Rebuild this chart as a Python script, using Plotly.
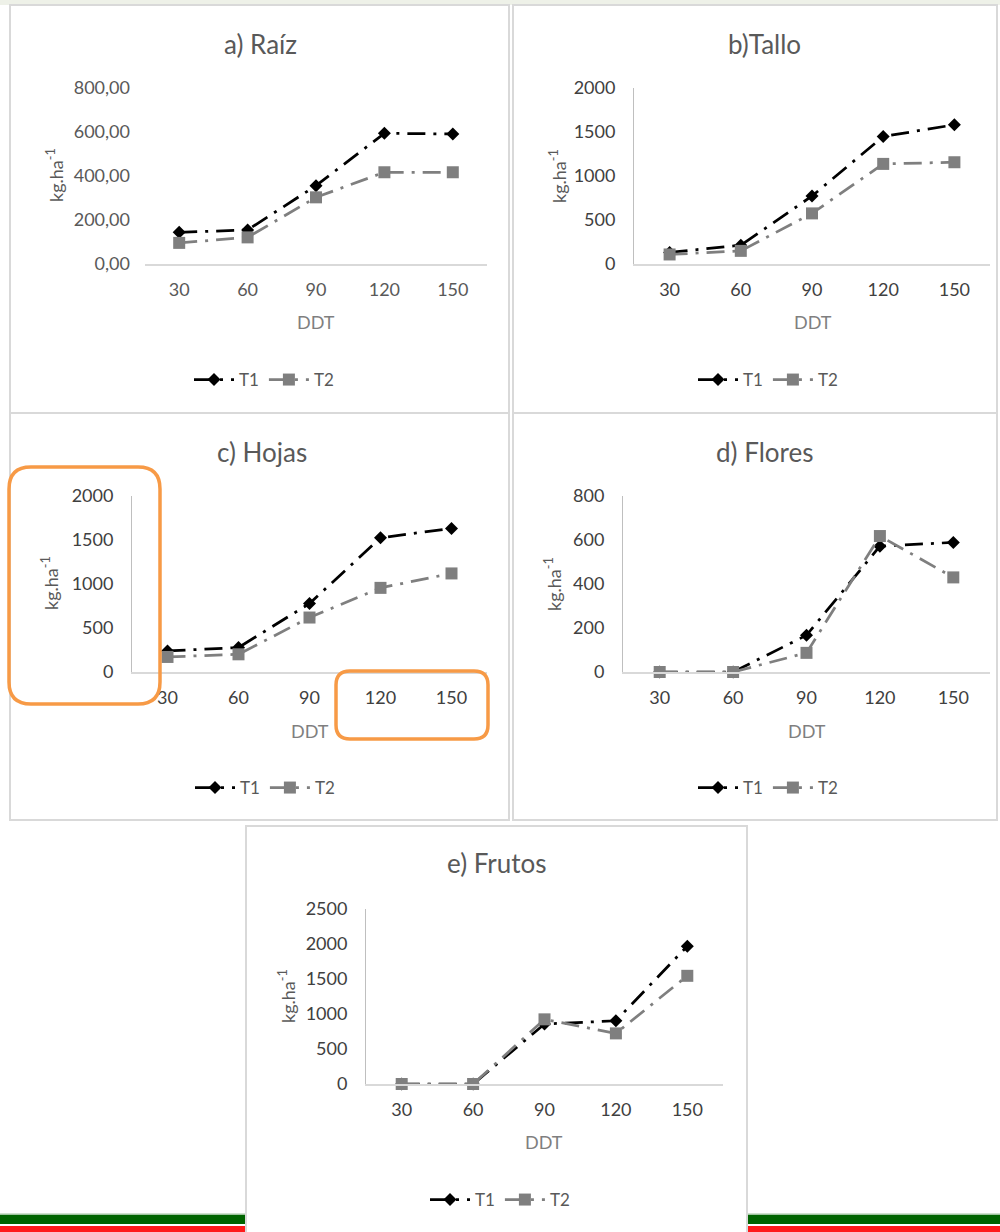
import plotly.graph_objects as go

W, H = 1000, 1232

# ---------------- data ----------------
categories = ["30", "60", "90", "120", "150"]
series_names = ["T1", "T2"]

raiz_t1 = [144, 155, 356, 594, 591]
raiz_t2 = [96, 121, 303, 417, 417]
tallo_t1 = [126, 209, 769, 1447, 1581]
tallo_t2 = [103, 144, 571, 1135, 1154]
hojas_t1 = [239, 278, 778, 1525, 1632]
hojas_t2 = [171, 201, 619, 956, 1120]
flores_t1 = [0, 0, 167, 572, 589]
flores_t2 = [0, 0, 87, 618, 430]
frutos_t1 = [0, 0, 854, 901, 1964]
frutos_t2 = [0, 0, 921, 721, 1541]

titles = ["a) Raíz", "b)Tallo", "c) Hojas", "d) Flores", "e) Frutos"]
y_max = [800, 2000, 2000, 800, 2500]
y_step = [200, 500, 500, 200, 500]
y_title = "kg.ha<sup>-1</sup>"
x_title = "DDT"

def px(x):
    return x / W

def py(y):
    return 1 - y / H

FONT = "Lato, Carlito, 'Open Sans', sans-serif"
DASH = "18px,8px,3px,8px"

panels = [
    dict(box=(10, 5, 509, 413), plot=(145, 88, 487, 264), title=(260, 44), ytit=(55, 175), xtit=(316, 322), leg=(264, 380), yline=False),
    dict(box=(513, 5, 997, 413), plot=(634, 88, 990, 263.5), title=(764, 44), ytit=(558, 176), xtit=(813, 322), leg=(768, 380), yline=True),
    dict(box=(10, 413, 509, 820), plot=(132, 496, 487, 672), title=(262, 452), ytit=(50, 583), xtit=(310, 731), leg=(265, 788), yline=True),
    dict(box=(513, 413, 997, 820), plot=(623, 496, 990, 672), title=(764, 452), ytit=(553, 584), xtit=(807, 731), leg=(768, 788), yline=True),
    dict(box=(246, 826, 747, 1240), plot=(366, 908.5, 723, 1084), title=(497, 863), ytit=(287, 996), xtit=(544, 1142), leg=(500, 1200), yline=True),
]

data_t1 = [raiz_t1, tallo_t1, hojas_t1, flores_t1, frutos_t1]
data_t2 = [raiz_t2, tallo_t2, hojas_t2, flores_t2, frutos_t2]

fig = go.Figure()
shapes = []
annotations = []
layout = {}

# page decorations
shapes.append(dict(type="rect", xref="paper", yref="paper", x0=0, x1=1, y0=py(0), y1=py(5),
                   fillcolor="#eef1e8", line=dict(width=0), layer="below"))
shapes.append(dict(type="rect", xref="paper", yref="paper", x0=0, x1=1, y0=py(1213.5), y1=py(1215),
                   fillcolor="#9fc49f", line=dict(width=0), layer="below"))
shapes.append(dict(type="rect", xref="paper", yref="paper", x0=0, x1=1, y0=py(1215), y1=py(1224),
                   fillcolor="#006400", line=dict(width=0), layer="below"))
shapes.append(dict(type="rect", xref="paper", yref="paper", x0=0, x1=1, y0=py(1226), y1=py(1232),
                   fillcolor="#ff1a1a", line=dict(width=0), layer="below"))

for i, p in enumerate(panels):
    n = "" if i == 0 else str(i + 1)
    xa, ya = "x" + n, "y" + n
    leg = "legend" + n
    x0, y0, x1, y1 = p["plot"]

    bx0, by0, bx1, by1 = p["box"]
    shapes.append(dict(type="rect", xref="paper", yref="paper",
                       x0=px(bx0), x1=px(bx1), y0=py(by0), y1=py(by1),
                       fillcolor="white", line=dict(color="#d9d9d9", width=2), layer="below"))

    fig.add_trace(go.Scatter(
        x=categories, y=data_t1[i], name=series_names[0], xaxis=xa, yaxis=ya, legend=leg,
        mode="lines+markers", cliponaxis=False,
        line=dict(color="#000000", width=2.75, dash=DASH),
        marker=dict(symbol="diamond", size=10, color="#000000"),
    ))
    fig.add_trace(go.Scatter(
        x=categories, y=data_t2[i], name=series_names[1], xaxis=xa, yaxis=ya, legend=leg,
        mode="lines+markers", cliponaxis=False,
        line=dict(color="#7f7f7f", width=2.75, dash=DASH),
        marker=dict(symbol="square", size=12, color="#7f7f7f"),
    ))

    tick_col = "#595959" if i == 0 else "#404040"
    layout["xaxis" + n] = dict(
        domain=[px(x0), px(x1)], anchor=ya, type="category",
        categoryorder="array", categoryarray=categories,
        range=[-0.5, len(categories) - 0.5], automargin=False,
        showgrid=False, zeroline=False, showline=True, linecolor="#d9d9d9", linewidth=1.5,
        ticks="", ticklabelstandoff=9,
        tickfont=dict(family=FONT, size=18, color=tick_col), fixedrange=True,
    )
    yax = dict(
        domain=[py(y1), py(y0)], anchor=xa, range=[0, y_max[i]], automargin=False,
        tickmode="linear", tick0=0, dtick=y_step[i],
        showgrid=False, zeroline=False,
        showline=p["yline"], linecolor="#bfbfbf", linewidth=1,
        ticks="", ticklabelstandoff=14,
        tickfont=dict(family=FONT, size=18, color=tick_col), fixedrange=True,
    )
    if i == 0:
        yax["tickformat"] = ".2f"
    layout["yaxis" + n] = yax

    lx, ly = p["leg"]
    layout[leg] = dict(
        orientation="h", x=px(lx), y=py(ly), xanchor="center", yanchor="middle",
        font=dict(family=FONT, size=17, color="#595959"), bgcolor="rgba(0,0,0,0)",
        itemwidth=40, tracegroupgap=0,
    )

    tx, ty = p["title"]
    annotations.append(dict(text=titles[i], x=px(tx), y=py(ty), xref="paper", yref="paper",
                            xanchor="center", yanchor="middle", showarrow=False,
                            font=dict(family=FONT, size=26, color="#595959")))
    ax_, ay_ = p["ytit"]
    annotations.append(dict(text=y_title, x=px(ax_), y=py(ay_), xref="paper", yref="paper",
                            xanchor="center", yanchor="middle", showarrow=False, textangle=-90,
                            font=dict(family=FONT, size=18, color="#595959")))
    dx, dy = p["xtit"]
    annotations.append(dict(text=x_title, x=px(dx), y=py(dy), xref="paper", yref="paper",
                            xanchor="center", yanchor="middle", showarrow=False,
                            font=dict(family=FONT, size=18, color="#7f7f7f")))

def rounded(x0, y0, x1, y1, r):
    rx, ry = r / W, r / H
    X0, X1, Y0, Y1 = px(x0), px(x1), py(y0), py(y1)
    return (f"M {X0+rx},{Y0} L {X1-rx},{Y0} Q {X1},{Y0} {X1},{Y0-ry} "
            f"L {X1},{Y1+ry} Q {X1},{Y1} {X1-rx},{Y1} L {X0+rx},{Y1} "
            f"Q {X0},{Y1} {X0},{Y1+ry} L {X0},{Y0-ry} Q {X0},{Y0} {X0+rx},{Y0} Z")

ORANGE = "#f79a46"
shapes.append(dict(type="path", xref="paper", yref="paper", path=rounded(9, 467, 160, 704, 22),
                   line=dict(color=ORANGE, width=3.5), layer="above"))
shapes.append(dict(type="path", xref="paper", yref="paper", path=rounded(336, 671, 488, 739, 14),
                   line=dict(color=ORANGE, width=3.5), layer="above"))

fig.update_layout(
    width=W, height=H, margin=dict(l=0, r=0, t=0, b=0, autoexpand=False),
    paper_bgcolor="white", plot_bgcolor="rgba(0,0,0,0)",
    separators=",.", showlegend=True,
    shapes=shapes, annotations=annotations,
    font=dict(family=FONT),
    **layout,
)

post = "document.body.style.margin='0';document.body.style.padding='0';"

fig.write_html("out.html", config={"displayModeBar": False}, post_script=post)
